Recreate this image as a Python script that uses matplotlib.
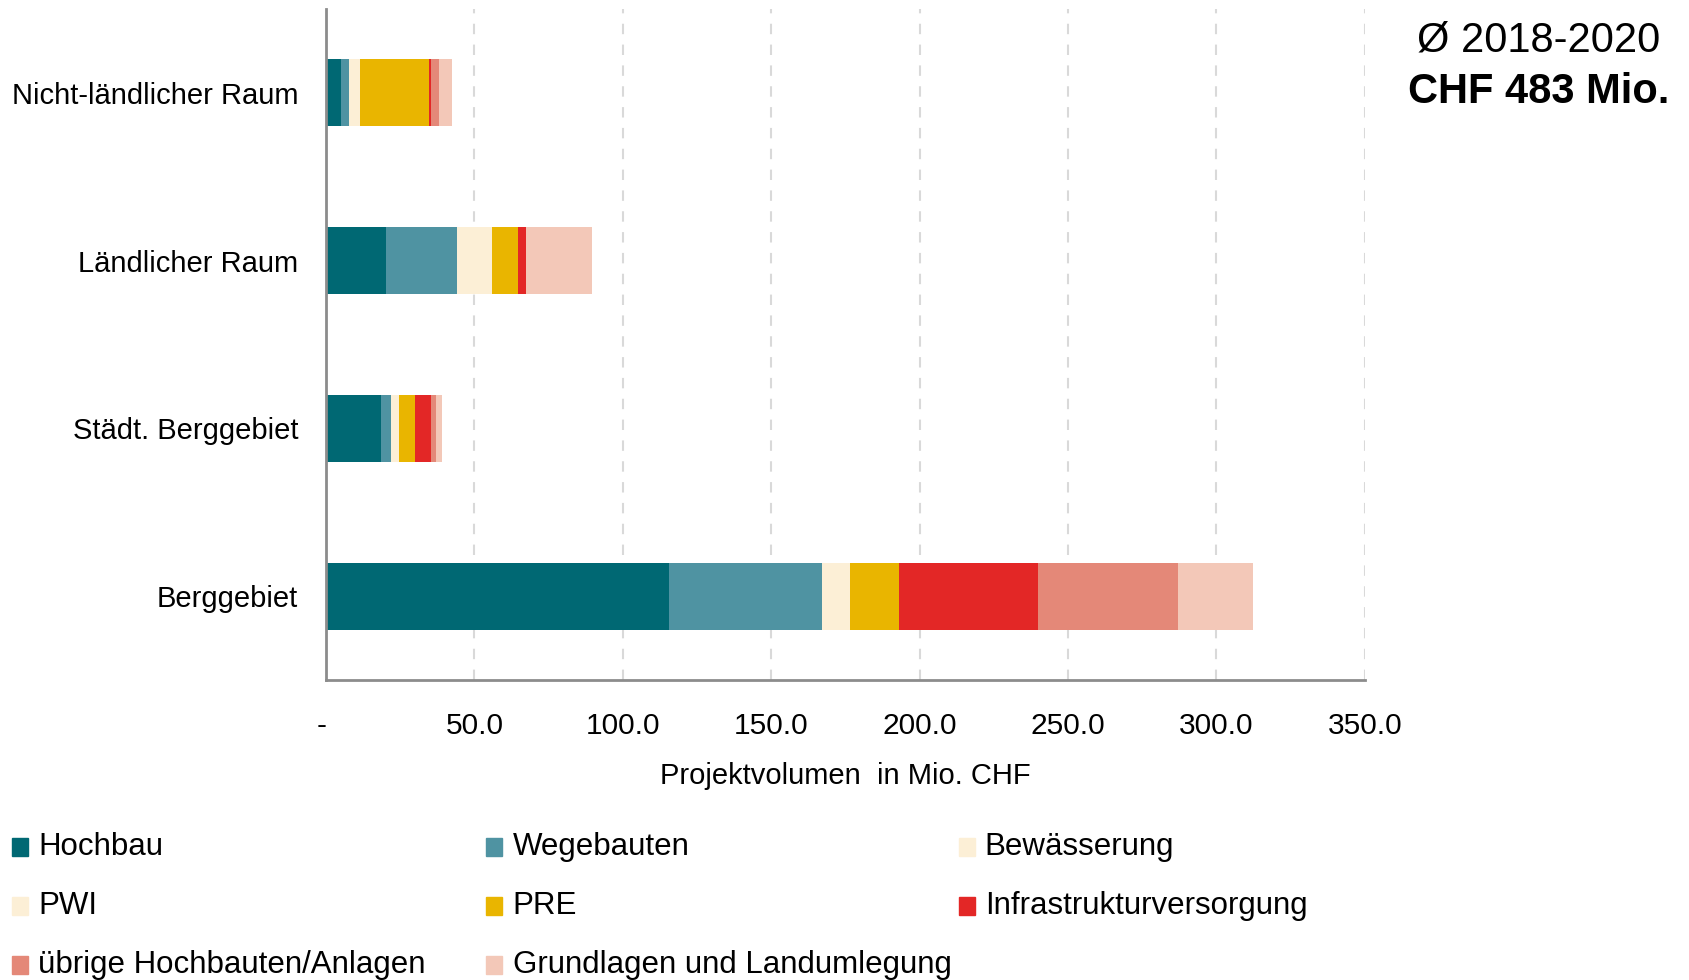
import matplotlib.pyplot as plt
from matplotlib.patches import Rectangle
import numpy as np

plt.rcParams['font.family'] = ['Liberation Sans', 'DejaVu Sans']

# Kategorien von unten nach oben
regionen = ['Berggebiet', 'Städt. Berggebiet', 'Ländlicher Raum', 'Nicht-ländlicher Raum']

# Projektvolumen in Mio. CHF, gleiche Reihenfolge wie regionen
hochbau = [115.5, 18.4, 20.1, 4.9]
wegebauten = [51.6, 3.6, 24.1, 2.8]
bewaesserung = [9.0, 2.6, 11.6, 3.6]
pwi = [0.6, 0.0, 0.0, 0.0]
pre = [16.3, 5.5, 8.9, 23.3]
infra = [47.0, 5.2, 2.7, 0.8]
uebrige = [47.0, 1.7, 0.0, 2.6]
grundlagen = [25.2, 2.0, 22.3, 4.6]

serien = ['Hochbau', 'Wegebauten', 'Bewässerung', 'PWI', 'PRE',
          'Infrastrukturversorgung', 'übrige Hochbauten/Anlagen',
          'Grundlagen und Landumlegung']
werte = [hochbau, wegebauten, bewaesserung, pwi, pre, infra, uebrige, grundlagen]
farben = ['#006873', '#4f93a2', '#fcefd6', '#fcefd6', '#e9b500',
          '#e32726', '#e48878', '#f3c8b8']

xticks = [0, 50, 100, 150, 200, 250, 300, 350]
xticklabels = ['- ', '50.0', '100.0', '150.0', '200.0', '250.0', '300.0', '350.0']

fig = plt.figure(figsize=(16.89, 9.8), dpi=100)
ax = fig.add_axes([0.193, 0.306, 0.615, 0.685])

y = np.arange(len(regionen))
links = np.zeros(len(regionen))
for name, w, c in zip(serien, werte, farben):
    ax.barh(y, w, left=links, height=0.4, color=c, edgecolor='none', zorder=3)
    links += np.array(w)

ax.set_xlim(0, 350)
ax.set_ylim(-0.5, 3.5)
ax.set_yticks(y)
ax.set_yticklabels(regionen, fontsize=21)
ax.set_xticks(xticks)
ax.set_xticklabels(xticklabels, fontsize=21.5)
ax.tick_params(axis='both', length=0)
ax.tick_params(axis='x', pad=23)
ax.tick_params(axis='y', pad=20)
ax.set_xlabel('Projektvolumen  in Mio. CHF', fontsize=21, labelpad=16)

ax.grid(axis='x', linestyle=(0, (5, 5)), color='#d9d9d9', linewidth=1.5, zorder=0)
for s in ['top', 'right']:
    ax.spines[s].set_visible(False)
for s in ['left', 'bottom']:
    ax.spines[s].set_color('#8c8c8c')
    ax.spines[s].set_linewidth(2)
    ax.spines[s].set_zorder(4)

fig.text(0.911, 0.959, 'Ø 2018-2020', fontsize=30, ha='center', va='center')
fig.text(0.911, 0.906, 'CHF 483 Mio.', fontsize=30, fontweight='bold',
         ha='center', va='center')

# Legende, zeilenweise in drei Spalten
spalten_x = [0.007, 0.288, 0.5675]
zeilen_y = [0.136, 0.0755, 0.0155]
for i, (name, c) in enumerate(zip(serien, farben)):
    sx = spalten_x[i % 3]
    sy = zeilen_y[i // 3]
    fig.patches.append(Rectangle((sx, sy - 0.009), 0.0095, 0.018, color=c,
                                 transform=fig.transFigure, figure=fig))
    fig.text(sx + 0.0155, sy, name, fontsize=22.5, ha='left', va='center')

fig.savefig('out.png', dpi=100)
